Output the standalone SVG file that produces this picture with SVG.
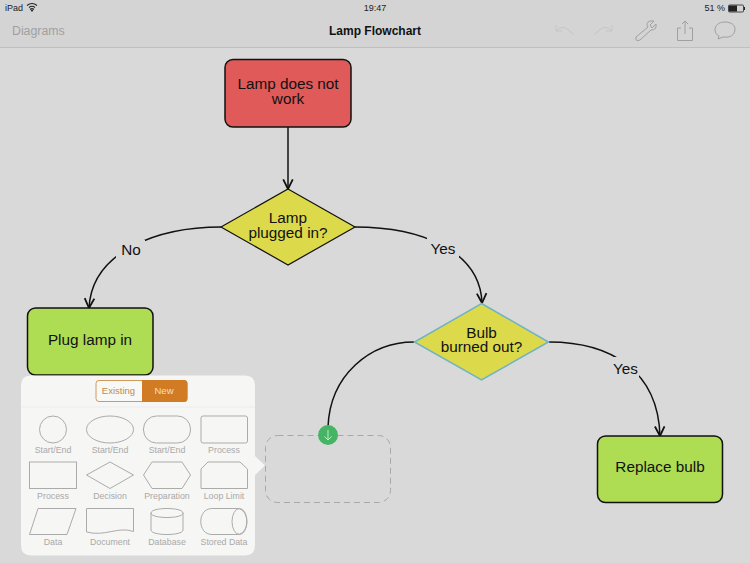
<svg xmlns="http://www.w3.org/2000/svg" width="750" height="563" viewBox="0 0 750 563">
<style>
text{font-family:"Liberation Sans",Arial,sans-serif}
.n{stroke:#111;stroke-width:1.5}
.t{font-size:15.300px;fill:#111;text-anchor:middle}
.l{font-size:15.300px;fill:#111;text-anchor:middle}
.c{fill:none;stroke:#111;stroke-width:1.500}
.b{fill:#d9d9d9}
.p{font-size:8.800px;fill:#a9a9a9;text-anchor:middle}
.i{fill:none;stroke:#ababab;stroke-width:1}
.f{fill:none;stroke:#c6c6c6;stroke-width:1}
</style>
<defs>
<marker id="a" markerUnits="userSpaceOnUse" markerWidth="12" markerHeight="12" refX="9" refY="5" orient="auto" viewBox="0 0 10 10"><path d="M1 1L9 5L1 9" fill="none" stroke="#111" stroke-width="1.500"/></marker>
</defs>
<rect width="750" height="563" fill="#d9d9d9"/>
<g id="toolbar">
<rect width="750" height="47" fill="#d4d4d4"/>
<line x1="0" y1="47.500" x2="750" y2="47.500" stroke="#c0c0c0"/>
<text x="5" y="11" font-size="9" fill="#222">iPad</text>
<path d="M27 5.500Q32 1.500 37 5.500M29 7.500Q32 5 35 7.500M30.500 9Q32 8 33.500 9L32 11Z" fill="none" stroke="#222" stroke-width="1.100"/>
<text x="375" y="11" font-size="9" fill="#222" text-anchor="middle">19:47</text>
<text x="725" y="11" font-size="9" fill="#222" text-anchor="end">51 %</text>
<rect x="728.500" y="5" width="15" height="7" rx="1" fill="none" stroke="#222" stroke-width=".8"/>
<rect x="729" y="5.500" width="8" height="6" fill="#222"/>
<rect x="744" y="7" width="1" height="3" fill="#222"/>
<text x="12" y="35" font-size="12.300" fill="#a0a0a0">Diagrams</text>
<text x="375" y="35" font-size="12" font-weight="bold" fill="#111" text-anchor="middle">Lamp Flowchart</text>
<path d="M556 31Q563 22 574 35M556 31L556 25M556 31L562 31" class="f"/>
<path d="M612 31Q605 22 594 35M612 31L612 25M612 31L606 31" class="f"/>
<path d="M636 37L648 27Q645 23 650 21L654 21L650 25L652 28L656 24Q657 30 651 30L640 40Q635 42 636 37Z" fill="none" stroke="#a0a0a0" stroke-width="1"/>
<path d="M681 28H677.500V40.500H692.500V28H689M685 34V21M682 24L685 21L688 24" fill="none" stroke="#a0a0a0" stroke-width="1"/>
<path d="M725 22C718 22 715 26 715 30C715 33 717 35 719 36L718 39L723 37C730 38 735 35 735 29C735 25 731 22 725 22Z" fill="none" stroke="#a0a0a0" stroke-width="1"/>
</g>
<g id="connectors">
<path class="c" d="M288 127V189" marker-end="url(#a)"/>
<path class="c" d="M221 227C160 227 92 250 89 308" marker-end="url(#a)"/>
<path class="c" d="M355 227C420 227 480 250 482 303" marker-end="url(#a)"/>
<path class="c" d="M414 342C370 342 330 375 328 427"/>
<path class="c" d="M549 342C610 342 658 370 660 436" marker-end="url(#a)"/>
</g>
<g id="lamp-does-not-work">
<rect x="225" y="59.500" width="126" height="67.500" rx="8" fill="#df5a58" class="n"/>
<text class="t" x="288" y="89">Lamp does not</text><text class="t" x="288" y="104">work</text>
</g>
<g id="lamp-plugged-in">
<path d="M288 189L355 227L288 265L221 227Z" fill="#dcd94a" stroke="#111" stroke-width="1.200"/>
<text class="t" x="288" y="223">Lamp</text><text class="t" x="288" y="238">plugged in?</text>
</g>
<g id="plug-lamp-in">
<rect x="27.500" y="308" width="125.500" height="67" rx="8" fill="#aedc53" class="n"/>
<text class="t" x="90" y="345">Plug lamp in</text>
</g>
<g id="bulb-burned-out">
<path d="M481.500 303.500L548.500 342L481.500 380L414.500 342Z" fill="#dcd94a" stroke="#6fb3c4" stroke-width="1.500"/>
<text class="t" x="481.500" y="338">Bulb</text><text class="t" x="481.500" y="352">burned out?</text>
</g>
<g id="replace-bulb">
<rect x="597.500" y="436" width="125" height="66.500" rx="8" fill="#aedc53" class="n"/>
<text class="t" x="660" y="472">Replace bulb</text>
</g>
<g id="connector-labels">
<rect class="b" x="116" y="240" width="29" height="20"/><text class="l" x="131" y="255">No</text>
<rect class="b" x="427" y="237" width="32" height="23"/><text class="l" x="443" y="254">Yes</text>
<rect class="b" x="610" y="357" width="29" height="24"/><text class="l" x="625.500" y="374">Yes</text>
</g>
<g id="placeholder">
<rect x="265.500" y="435.500" width="125" height="67" rx="12" fill="none" stroke="#a8a8a8" stroke-dasharray="6 4"/>
<circle cx="328" cy="435" r="10" fill="#45b563"/>
<path d="M328 430V440M324.500 436.500L328 440L331.500 436.500" fill="none" stroke="#c4eacd" stroke-width="1"/>
</g>
<g id="palette">
<path d="M31 375.500H245Q255 375.500 255 385.500V456L265 465.500L255 475V545Q255 555.500 245 555.500H31Q21 555.500 21 545V385.500Q21 375.500 31 375.500Z" fill="#f6f6f5"/>
<line x1="21" y1="407" x2="255" y2="407" stroke="#ececec"/>
<rect x="96" y="380.500" width="91" height="21" rx="3" fill="#f8f8f6" stroke="#d09a5c"/>
<path d="M142 380H184Q187.500 380 187.500 383.500V398.500Q187.500 402 184 402H142Z" fill="#d17c25"/>
<text x="118.500" y="394" font-size="9.500" fill="#bf8a4e" text-anchor="middle">Existing</text>
<text x="164" y="394" font-size="9.500" fill="#f6dfc2" text-anchor="middle">New</text>
<circle class="i" cx="53" cy="429.500" r="13.500"/>
<ellipse class="i" cx="110" cy="429.500" rx="23.500" ry="13.500"/>
<rect class="i" x="143.500" y="416" width="47" height="27" rx="13"/>
<rect class="i" x="201" y="416" width="46.500" height="27" rx="2"/>
<text class="p" x="53" y="453">Start/End</text>
<text class="p" x="110" y="453">Start/End</text>
<text class="p" x="167" y="453">Start/End</text>
<text class="p" x="224" y="453">Process</text>
<rect class="i" x="29.500" y="462" width="47" height="26.500"/>
<path class="i" d="M110 462L133.500 475L110 488.500L86.500 475Z"/>
<path class="i" d="M152 462H182L190.500 475L182 488.500H152L143.500 475Z"/>
<path class="i" d="M201 469L208 462H240L247.500 469V488.500H201Z"/>
<text class="p" x="53" y="499">Process</text>
<text class="p" x="110" y="499">Decision</text>
<text class="p" x="167" y="499">Preparation</text>
<text class="p" x="224" y="499">Loop Limit</text>
<path class="i" d="M38 508.500H76L67 534.500H29.500Z"/>
<path class="i" d="M86.500 508.500H133.500V531.500C118 526 105 537 86.500 532Z"/>
<path class="i" d="M151 513C151 507 183 507 183 513V530C183 536 151 536 151 530ZM151 513C151 519 183 519 183 513"/>
<path class="i" d="M212 508.500H237C250 508.500 250 534.500 237 534.500H212C197 534.500 197 508.500 212 508.500Z"/>
<ellipse class="i" cx="239.500" cy="521.500" rx="7.500" ry="13"/>
<text class="p" x="53" y="545">Data</text>
<text class="p" x="110" y="545">Document</text>
<text class="p" x="167" y="545">Database</text>
<text class="p" x="224" y="545">Stored Data</text>
</g>
</svg>
